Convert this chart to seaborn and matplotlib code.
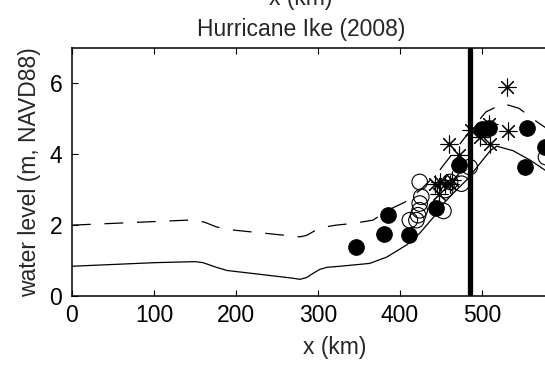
import numpy as np
import pandas as pd
import matplotlib
matplotlib.use("Agg")
import matplotlib.pyplot as plt
import seaborn as sns

# ---- data (km, m NAVD88) ----
solid_x = [0, 50, 100, 150, 160, 176, 189, 230, 270, 278, 286, 294, 302, 311, 327, 363, 384, 408, 424, 441, 453, 465, 481, 494, 510, 518, 538, 559, 577, 600]
solid_y = [0.84, 0.89, 0.94, 0.97, 0.94, 0.81, 0.72, 0.61, 0.5, 0.47, 0.52, 0.64, 0.75, 0.81, 0.84, 0.92, 1.1, 1.44, 1.77, 2.23, 2.61, 2.9, 3.27, 3.64, 4.1, 4.23, 4.1, 3.83, 3.55, 3.2]

dash_x = [0, 150, 162, 176, 197, 278, 286, 296, 306, 322, 343, 367, 385, 406, 425, 445, 465, 485, 505, 526, 545, 568, 600]
dash_y = [2.0, 2.15, 2.08, 1.95, 1.86, 1.67, 1.71, 1.84, 1.94, 2.0, 2.05, 2.14, 2.42, 2.65, 3.0, 3.45, 4.05, 4.65, 5.2, 5.43, 5.3, 4.9, 4.4]

filled_x = [346, 381, 385, 411, 444, 472, 500, 508, 553, 555, 577]
filled_y = [1.37, 1.74, 2.28, 1.72, 2.47, 3.71, 4.7, 4.75, 3.64, 4.75, 4.2]

open_x = [424, 426, 424, 424, 422, 412, 420, 453, 461, 475, 485, 455, 578]
open_y = [3.22, 2.8, 2.61, 2.42, 2.28, 2.14, 2.14, 2.4, 3.22, 3.17, 3.64, 2.99, 3.92]

star_x = [531, 460, 472, 532, 487, 498, 510, 508, 443, 449, 455, 461, 447, 463]
star_y = [5.9, 4.28, 3.97, 4.66, 4.69, 4.49, 4.28, 4.86, 3.17, 3.22, 3.17, 3.17, 2.89, 3.27]

landfall_x = 485

xticks = [0, 100, 200, 300, 400, 500]
yticks = [0, 2, 4, 6]

# ---- style ----
sns.set_style("white")
plt.rcParams['font.family'] = ['Liberation Sans', 'DejaVu Sans']
plt.rcParams['font.size'] = 16.5

W, H = 545, 365
fig = plt.figure(figsize=(W / 100, H / 100), dpi=100)
left_px, bottom_px, top_px = 72, 296, 48
xmax = 640
px_per_km = 0.82
ax = fig.add_axes([left_px / W, (H - bottom_px) / H,
                   xmax * px_per_km / W, (bottom_px - top_px) / H])

sns.lineplot(x=solid_x, y=solid_y, color='k', lw=0.9, ax=ax, sort=False)
sns.lineplot(x=dash_x, y=dash_y, color='k', lw=0.9, ax=ax, sort=False,
             linestyle=(0, (15, 11)))

sns.scatterplot(x=filled_x, y=filled_y, marker='o', s=125, color='k',
                edgecolor='k', linewidth=0.8, ax=ax, zorder=3)
sns.scatterplot(x=open_x, y=open_y, marker='o', s=125, color='k',
                edgecolor='k', linewidth=0.8, ax=ax, zorder=3)
ax.collections[-1].set_facecolor('none')
ax.collections[-1].set_edgecolor('k')
sns.scatterplot(x=star_x, y=star_y, marker=(8, 2, 0), s=150, color='k',
                linewidth=0.8, ax=ax, zorder=3)
ax.collections[-1].set_edgecolor('k')
ax.collections[-1].set_facecolor('k')

ax.axvline(landfall_x, color='k', lw=3.8, zorder=5)

ax.set_xlim(0, xmax)
ax.set_ylim(0, 7)
ax.set_xticks(xticks)
ax.set_yticks(yticks)
ax.tick_params(direction='in', length=4, width=0.8, top=True, right=False,
               bottom=True, left=True, labelsize=16.5, colors='k')
ax.tick_params(axis='x', pad=6)
ax.tick_params(axis='y', pad=7)
for s in ax.spines.values():
    s.set_linewidth(1.1)
    s.set_color('k')
ax.spines['right'].set_visible(False)

ax.set_xlabel('x (km)', fontsize=16.5, labelpad=2)
ax.set_ylabel('water level (m, NAVD88)', fontsize=16.5, labelpad=6)
ax.xaxis.set_label_coords((335 - left_px) / (xmax * px_per_km), -0.162)

fig.text(301 / W, (H - 36) / H, 'Hurricane Ike (2008)', ha='center',
         va='baseline', fontsize=16.5)
fig.text(301 / W, (H - 5) / H, 'x (km)', ha='center', va='baseline',
         fontsize=16.5)

fig.savefig('out.png', dpi=100)
